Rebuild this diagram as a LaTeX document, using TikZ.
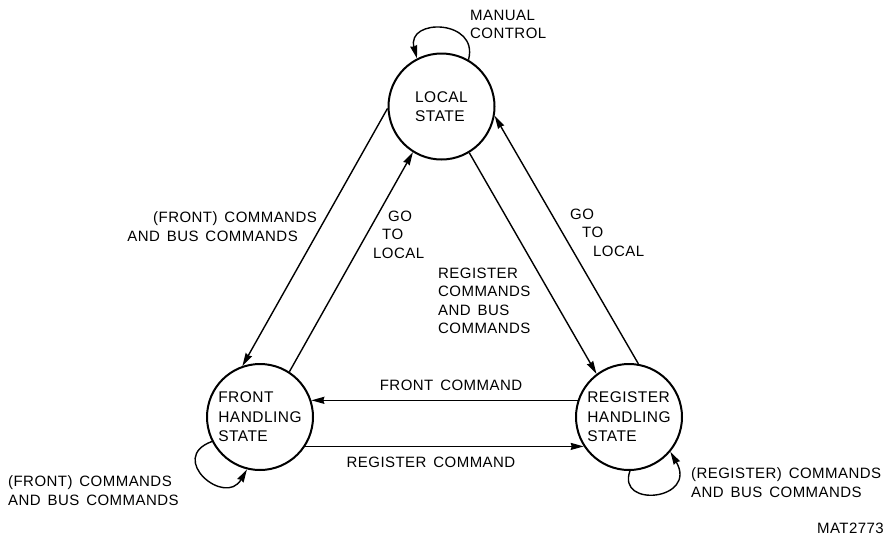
\documentclass[tikz,border=0pt]{standalone}
\usepackage{fontspec}
\setmainfont{Liberation Sans}[LetterSpace=3,WordSpace=1.5]
\usetikzlibrary{arrows.meta}
\newcommand\dglblfont{\fontsize{15}{18.5}\selectfont}
\newcommand\dgstatefont{\fontsize{15.5}{19.5}\selectfont}
\begin{document}
\begin{tikzpicture}[x=1pt,y=1pt,
  state/.style={circle, draw, line width=2pt, minimum size=106pt, inner sep=0pt, align=left, font=\dgstatefont},
  conn/.style={line width=1.4pt, -{Stealth[length=13pt,width=7pt,inset=1pt]}},
  lbl/.style={inner sep=0pt, font=\dglblfont}]
\useasboundingbox (0,0) rectangle (887,-542);

% states
\node[state] (local) at (441.5,-106.5) {LOCAL\\STATE};
\node[state] (front) at (260,-417) {FRONT\\HANDLING\\STATE};
\node[state] (register) at (629,-417) {REGISTER\\HANDLING\\STATE};

% connectors
\draw[conn] (local.182) -- (front.109);
\draw[conn] (front.57) -- (local.238);
\draw[conn] (local.301) -- (register.127);
\draw[conn] (register.80) -- (local.350);
\draw[conn] (register.162) -- (front.18);
\draw[conn] (front.-33) -- (register.213);

% self loops
\draw[conn] (local.60) .. controls +(75:42) and +(105:42) .. (local.117);
\draw[conn] (front.207) .. controls +(200:48) and +(240:44) .. (front.256);
\draw[conn] (register.-89) .. controls +(250:40) and +(-60:56) .. (register.-40);

% labels
\node[lbl, anchor=north west, align=left] (manual) at (470,-9.5) {MANUAL\\CONTROL};
\node[lbl, anchor=north east, align=right] (lfc) at (317,-211.5) {(FRONT) COMMANDS\\AND BUS COMMANDS\rule{19pt}{0pt}};
\node[lbl, anchor=north west, align=left] (lgo) at (373,-210.5) {\rule{15pt}{0pt}GO\\\rule{9pt}{0pt}TO\\LOCAL};
\node[lbl, anchor=north west, align=left] (rcb) at (438,-267.5) {REGISTER\\COMMANDS\\AND BUS\\COMMANDS};
\node[lbl, anchor=north west, align=left] (rgo) at (570,-208.5) {GO\\\rule{12pt}{0pt}TO\\\rule{23pt}{0pt}LOCAL};
\node[lbl] (fcmd) at (451,-385) {FRONT COMMAND};
\node[lbl] (rcmd) at (431,-462) {REGISTER COMMAND};
\node[lbl, anchor=north west, align=left] (bl) at (8,-475.5) {(FRONT) COMMANDS\\AND BUS COMMANDS};
\node[lbl, anchor=north west, align=left] (br) at (691,-467.5) {(REGISTER) COMMANDS\\AND BUS COMMANDS};
\node[lbl, anchor=east] (mat) at (884,-528) {MAT2773};
\end{tikzpicture}
\end{document}
